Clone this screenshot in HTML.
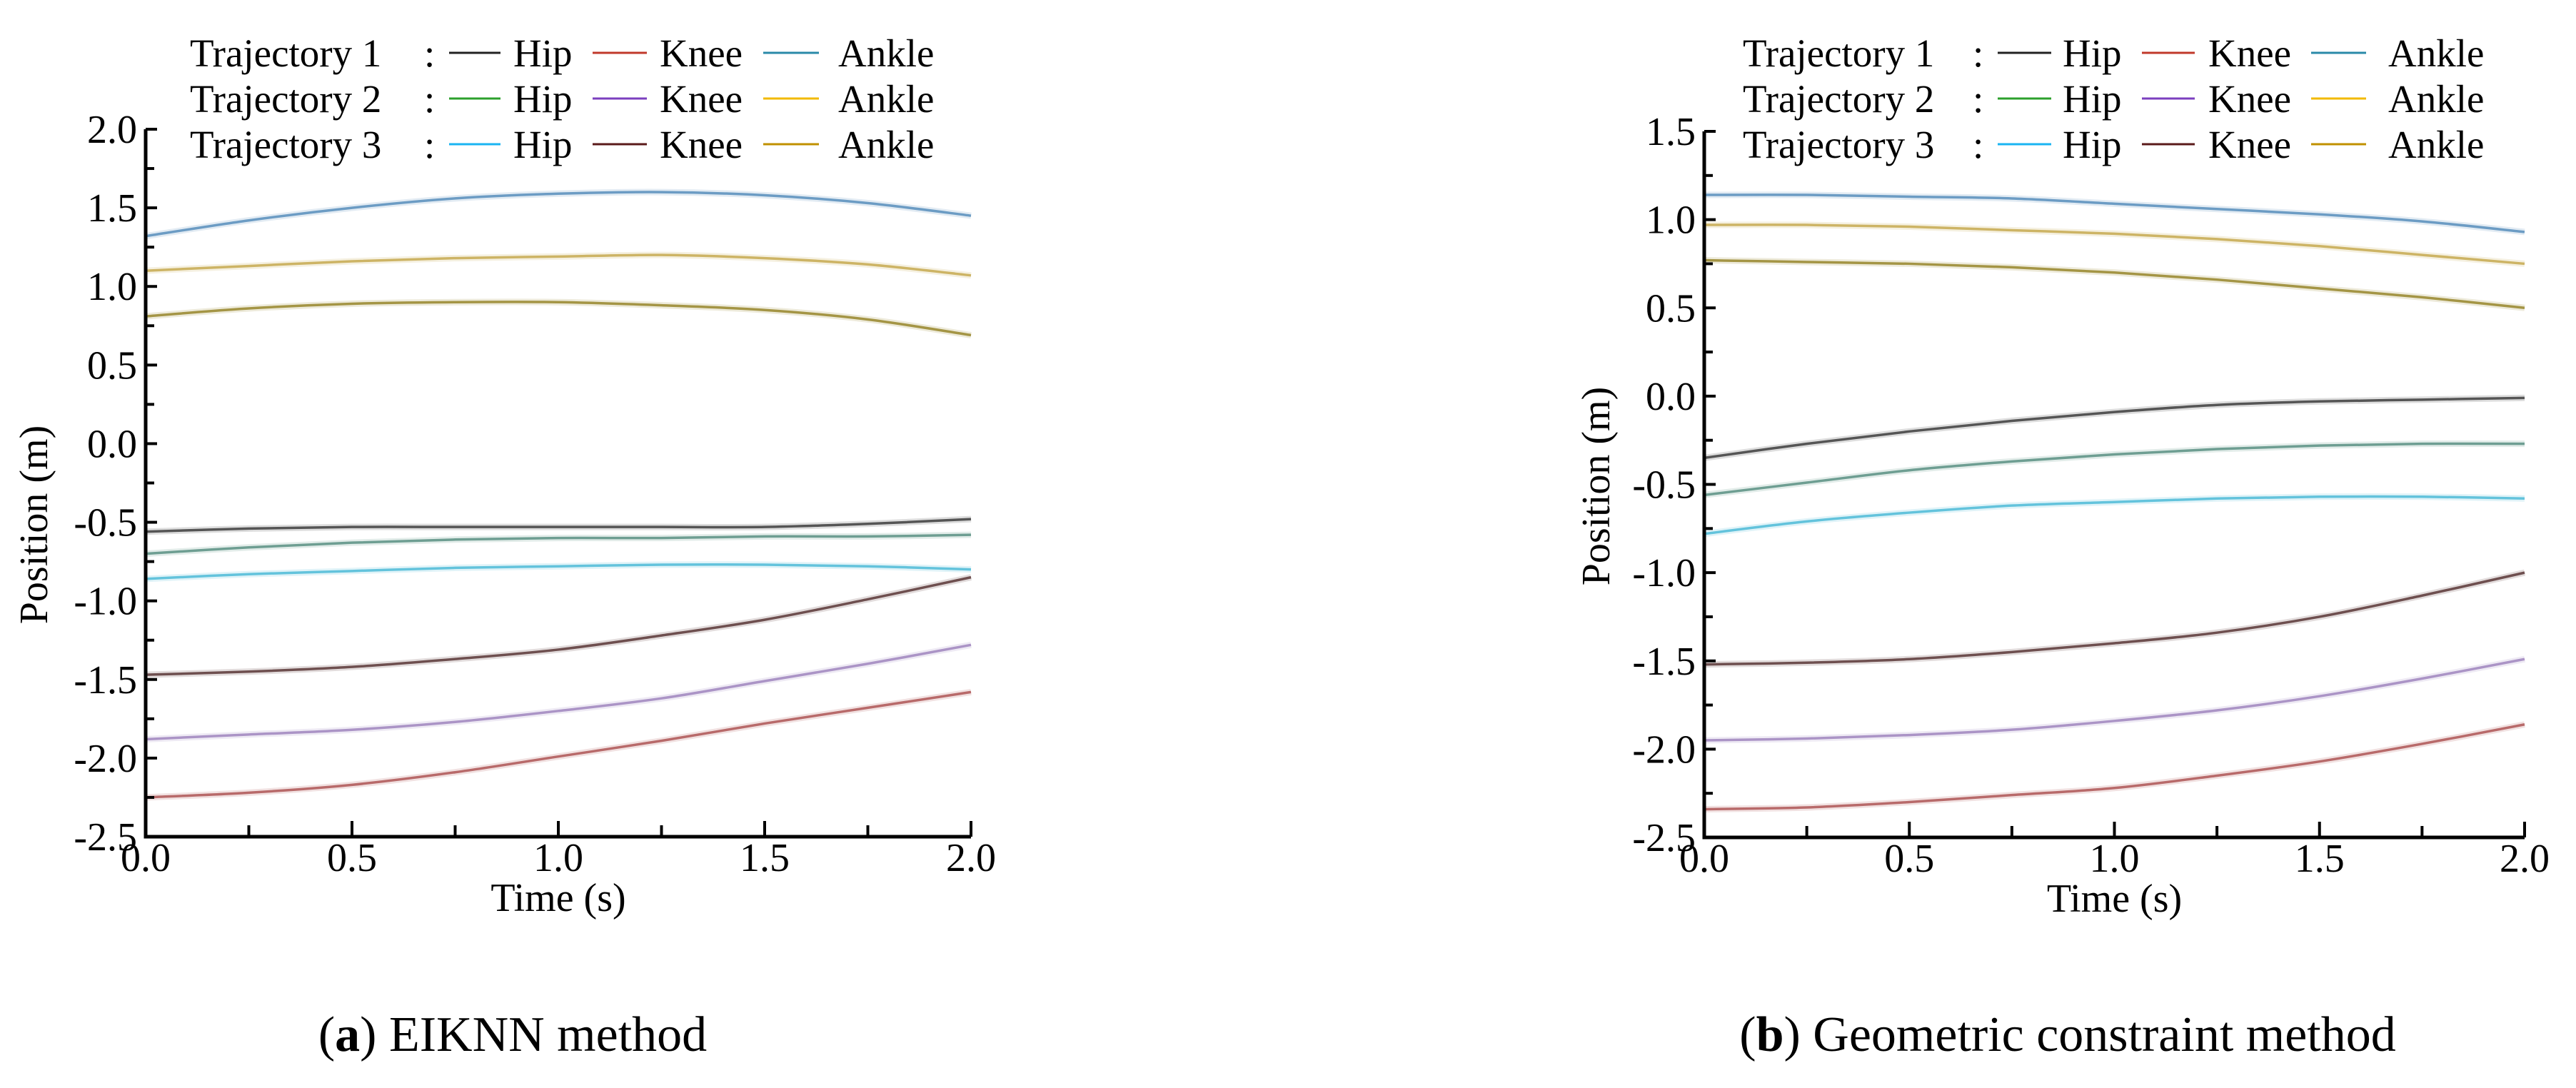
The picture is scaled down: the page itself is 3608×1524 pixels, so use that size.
<!DOCTYPE html>
<html><head><meta charset="utf-8">
<style>
html,body{margin:0;padding:0;background:#fff;}
svg{display:block;font-family:"Liberation Serif",serif;}
</style></head>
<body>
<svg id="fig" width="3608" height="1524" viewBox="0 0 3608 1524" xmlns="http://www.w3.org/2000/svg">
<rect width="3608" height="1524" fill="#fff"/>
</svg>
<script>
const times = [0,0.25,0.5,0.75,1.0,1.25,1.5,1.75,2.0];
const seriesNames = ["t1-hip","t1-knee","t1-ankle","t2-hip","t2-knee","t2-ankle","t3-hip","t3-knee","t3-ankle"];
// Chart (a) EIKNN
const a_t1_hip   = [-0.56,-0.54,-0.53,-0.53,-0.53,-0.53,-0.53,-0.51,-0.48];
const a_t1_knee  = [-2.25,-2.22,-2.17,-2.09,-1.99,-1.89,-1.78,-1.68,-1.58];
const a_t1_ankle = [1.32,1.42,1.50,1.56,1.59,1.60,1.58,1.53,1.45];
const a_t2_hip   = [-0.70,-0.66,-0.63,-0.61,-0.60,-0.60,-0.59,-0.59,-0.58];
const a_t2_knee  = [-1.88,-1.85,-1.82,-1.77,-1.70,-1.62,-1.51,-1.40,-1.28];
const a_t2_ankle = [1.10,1.13,1.16,1.18,1.19,1.20,1.18,1.14,1.07];
const a_t3_hip   = [-0.86,-0.83,-0.81,-0.79,-0.78,-0.77,-0.77,-0.78,-0.80];
const a_t3_knee  = [-1.47,-1.45,-1.42,-1.37,-1.31,-1.22,-1.12,-0.99,-0.85];
const a_t3_ankle = [0.81,0.86,0.89,0.90,0.90,0.88,0.85,0.79,0.69];
// Chart (b) Geometric constraint
const b_t1_hip   = [-0.35,-0.27,-0.20,-0.14,-0.09,-0.05,-0.03,-0.02,-0.01];
const b_t1_knee  = [-2.34,-2.33,-2.30,-2.26,-2.22,-2.15,-2.07,-1.97,-1.86];
const b_t1_ankle = [1.14,1.14,1.13,1.12,1.09,1.06,1.03,0.99,0.93];
const b_t2_hip   = [-0.56,-0.49,-0.42,-0.37,-0.33,-0.30,-0.28,-0.27,-0.27];
const b_t2_knee  = [-1.95,-1.94,-1.92,-1.89,-1.84,-1.78,-1.70,-1.60,-1.49];
const b_t2_ankle = [0.97,0.97,0.96,0.94,0.92,0.89,0.85,0.80,0.75];
const b_t3_hip   = [-0.78,-0.71,-0.66,-0.62,-0.60,-0.58,-0.57,-0.57,-0.58];
const b_t3_knee  = [-1.52,-1.51,-1.49,-1.45,-1.40,-1.34,-1.25,-1.13,-1.00];
const b_t3_ankle = [0.77,0.76,0.75,0.73,0.70,0.66,0.61,0.56,0.50];
const xTickLabels = ["0.0","0.5","1.0","1.5","2.0"];
const aYTickLabels = ["2.0","1.5","1.0","0.5","0.0","-0.5","-1.0","-1.5","-2.0","-2.5"];
const bYTickLabels = ["1.5","1.0","0.5","0.0","-0.5","-1.0","-1.5","-2.0","-2.5"];

const lineColors = ["#555","#b86a6a","#6c9cc4","#6e9e92","#ab94c6","#cdb465","#63c3dc","#6e4f4f","#a49545"];
const legendColors = ["#222","#c0392b","#2a8aa8","#2ca02c","#7b3fbf","#f2b900","#1ab4f2","#5a1a1a","#c09000"];
const NS="http://www.w3.org/2000/svg";
const svg=document.getElementById('fig');
function mk(tag,attrs,parent){const e=document.createElementNS(NS,tag);for(const k in attrs)e.setAttribute(k,attrs[k]);(parent||svg).appendChild(e);return e;}

function drawChart(cfg){
  const g=mk('g',{});
  
  
  const xs=t=>cfg.x0+(t-0)/(2-0)*(cfg.x1-cfg.x0);
  const ys=v=>cfg.y0+(cfg.ymax-v)/(cfg.ymax-cfg.ymin)*(cfg.y1-cfg.y0);
  cfg.series.forEach((arr,i)=>{
    const pts=arr.map((v,j)=>[xs(times[j]),ys(v)]);
    let d='M'+pts[0][0]+','+pts[0][1];
    for(let j=0;j<pts.length-1;j++){
      const p0=pts[Math.max(0,j-1)],p1=pts[j],p2=pts[j+1],p3=pts[Math.min(pts.length-1,j+2)];
      const c1=[p1[0]+(p2[0]-p0[0])/6,p1[1]+(p2[1]-p0[1])/6];
      const c2=[p2[0]-(p3[0]-p1[0])/6,p2[1]-(p3[1]-p1[1])/6];
      d+=' C'+c1[0]+','+c1[1]+' '+c2[0]+','+c2[1]+' '+p2[0]+','+p2[1];
    }
    mk('path',{d:d,fill:'none',stroke:lineColors[i],'stroke-width':9,'stroke-opacity':0.2},g);
    const p=mk('path',{d:d,fill:'none',stroke:lineColors[i],'stroke-width':3.5},g);
    
    
  });
  const ax=mk('path',{d:`M${cfg.x0},${cfg.y0} L${cfg.x0},${cfg.y1} L${cfg.x1},${cfg.y1}`,fill:'none',stroke:'#000','stroke-width':5},g);
  
  
  const nY=cfg.yLabels.length;
  for(let k=0;k<(nY-1)*2+1;k++){
    const v=cfg.ymax-k*0.25;const y=ys(v);
    mk('line',{x1:cfg.x0,x2:cfg.x0+(k%2?12:16),y1:y,y2:y,stroke:'#000','stroke-width':4},g);
  }
  cfg.yLabels.forEach((lab,k)=>{
    const t=mk('text',{x:cfg.x0-12,y:ys(cfg.ymax-k*0.5)+19,'text-anchor':'end','font-size':56},g);
    t.textContent=lab;
    
    
  });
  for(let k=0;k<=8;k++){
    const x=xs(k*0.25);
    mk('line',{x1:x,x2:x,y1:cfg.y1,y2:cfg.y1-(k%2?16:22),stroke:'#000','stroke-width':4},g);
  }
  xTickLabels.forEach((lab,k)=>{
    const t=mk('text',{x:xs(k*0.5),y:cfg.y1+48,'text-anchor':'middle','font-size':56},g);
    t.textContent=lab;
    
    
  });
  const xt=mk('text',{x:(cfg.x0+cfg.x1)/2,y:cfg.y1+104,'text-anchor':'middle','font-size':56},g);
  xt.textContent='Time (s)';
  
  
  const yt=mk('text',{x:0,y:0,'text-anchor':'middle','font-size':56,transform:`translate(${cfg.ytx},${cfg.yty}) rotate(-90)`},g);
  yt.textContent='Position (m)';
  
  
  const rows=['Trajectory 1','Trajectory 2','Trajectory 3'];const ly=[74,138,202];
  const L=cfg.leg;
  rows.forEach((r,ri)=>{
    const t=mk('text',{x:L.tx,y:ly[ri]+19,'font-size':55},g);t.textContent=r;
    
    
    const c=mk('text',{x:L.colon,y:ly[ri]+19,'font-size':55},g);c.textContent=':';
    const names=['Hip','Knee','Ankle'];
    for(let j=0;j<3;j++){
      const idx=ri*3+j;
      const ln=mk('line',{x1:L.lines[j][0],x2:L.lines[j][1],y1:ly[ri],y2:ly[ri],stroke:legendColors[idx],'stroke-width':3},g);
      
      
      const tt=mk('text',{x:L.texts[j],y:ly[ri]+19,'font-size':55},g);tt.textContent=names[j];
      
      
    }
  });
  const cap=mk('text',{x:cfg.capx,y:1472,'text-anchor':'middle','font-size':70},g);
  cap.innerHTML='(<tspan font-weight="bold">'+cfg.capLetter+'</tspan>) '+cfg.capText;
  
  
}
drawChart({name:'chart-a-eiknn',x0:204,x1:1360,y0:181,y1:1172,ymax:2.0,ymin:-2.5,
  series:[a_t1_hip,a_t1_knee,a_t1_ankle,a_t2_hip,a_t2_knee,a_t2_ankle,a_t3_hip,a_t3_knee,a_t3_ankle],
  yLabels:aYTickLabels,ytx:66,yty:735,
  leg:{tx:266,colon:594,lines:[[629,701],[830,906],[1069,1147]],texts:[719,924,1174]},
  capx:718,capLetter:'a',capText:'EIKNN method'});
drawChart({name:'chart-b-geometric',x0:2387,x1:3536,y0:184,y1:1173,ymax:1.5,ymin:-2.5,
  series:[b_t1_hip,b_t1_knee,b_t1_ankle,b_t2_hip,b_t2_knee,b_t2_ankle,b_t3_hip,b_t3_knee,b_t3_ankle],
  yLabels:bYTickLabels,ytx:2254,yty:681,
  leg:{tx:2441,colon:2763,lines:[[2798,2873],[3000,3074],[3237,3314]],texts:[2889,3093,3345]},
  capx:2896,capLetter:'b',capText:'Geometric constraint method'});
</script>
</body></html>
